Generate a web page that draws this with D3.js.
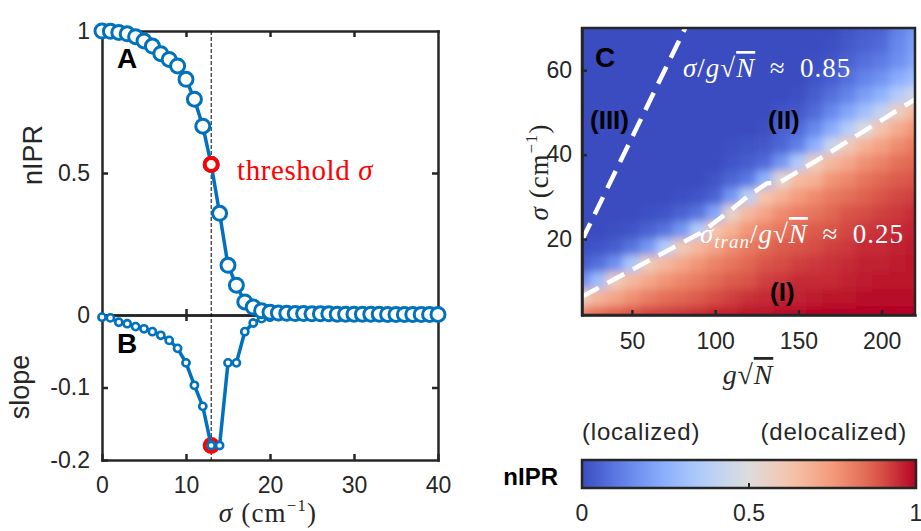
<!DOCTYPE html>
<html>
<head>
<meta charset="utf-8">
<script src="https://cdn.jsdelivr.net/npm/d3@7"></script>
<style>
body { margin: 0; background: #fff; }
svg text { font-family: "Liberation Sans", Arial, sans-serif; fill: #262626; }
svg text.serif { font-family: "Liberation Serif", "Times New Roman", serif; }
</style>
</head>
<body>
<svg id="fig" width="921" height="531"></svg>
<script>
// ---- panels A / B : nIPR and its slope vs sigma ----
const sigmaVals = [0, 1, 2, 3, 4, 5, 6, 7, 8, 9, 10, 11, 12, 13, 14, 15, 16, 17, 18, 19, 20,
    21, 22, 23, 24, 25, 26, 27, 28, 29, 30, 31, 32, 33, 34, 35, 36, 37, 38, 39, 40];
const nIPR = [1.0, 0.999, 0.995, 0.99, 0.98, 0.965, 0.947, 0.92, 0.90, 0.877, 0.83, 0.76, 0.665,
    0.53, 0.358, 0.175, 0.105, 0.046, 0.028, 0.015, 0.01, 0.007, 0.006, 0.005, 0.005, 0.004,
    0.004, 0.004, 0.003, 0.003, 0.003, 0.003, 0.003, 0.003, 0.002, 0.002, 0.002, 0.002, 0.002,
    0.002, 0.002];
const slope = [-0.003, -0.004, -0.01, -0.012, -0.016, -0.019, -0.023, -0.028, -0.035, -0.046,
    -0.066, -0.097, -0.126, -0.18, -0.18, -0.066, -0.066, -0.023, -0.011, -0.005, -0.003, -0.002,
    -0.002, -0.001, -0.001, -0.001, -0.001, -0.001, -0.001, -0.001, -0.001, -0.001, -0.001,
    -0.001, -0.001, -0.001, -0.001, -0.001, -0.001, -0.001, -0.001];
const thresholdSigma = 13;
const axTicksX = [0, 10, 20, 30, 40];
const axTicksA = [0, 0.5, 1];
const axTicksB = [-0.2, -0.1];

// ---- panel C : nIPR map over (g sqrt N, sigma) ----
const gSqrtN = [20, 30, 40, 50, 60, 70, 80, 90, 100, 110, 120, 130, 140, 150, 160, 170, 180, 190, 200, 210, 220];
const sigmaGrid = [70, 66, 62, 58, 54, 50, 46, 42, 38, 34, 30, 26, 22, 18, 14, 10, 6, 2];
const nIPRGrid = [
    [0, 0, 0, 0, 0, 0, 0, 0, 0, 0, 0, 0, 0, 0, 0, 0, 0.02, 0.04, 0.05, 0.12, 0.18],
    [0, 0, 0, 0, 0, 0, 0, 0, 0, 0, 0, 0, 0, 0, 0, 0.01, 0.03, 0.05, 0.07, 0.14, 0.20],
    [0, 0, 0, 0, 0, 0, 0, 0, 0, 0, 0, 0, 0, 0, 0.01, 0.02, 0.05, 0.08, 0.11, 0.16, 0.22],
    [0, 0, 0, 0, 0, 0, 0, 0, 0, 0, 0, 0, 0, 0, 0.02, 0.04, 0.08, 0.13, 0.17, 0.24, 0.30],
    [0, 0, 0, 0, 0, 0, 0, 0, 0, 0, 0, 0, 0, 0.01, 0.04, 0.08, 0.13, 0.20, 0.26, 0.36, 0.45],
    [0, 0, 0, 0, 0, 0, 0, 0, 0, 0, 0, 0, 0.02, 0.03, 0.07, 0.14, 0.22, 0.31, 0.41, 0.58, 0.66],
    [0, 0, 0, 0, 0, 0, 0, 0, 0, 0, 0, 0.01, 0.05, 0.07, 0.14, 0.24, 0.36, 0.49, 0.63, 0.70, 0.76],
    [0, 0, 0, 0, 0, 0, 0, 0, 0, 0.01, 0.02, 0.03, 0.06, 0.12, 0.25, 0.43, 0.60, 0.68, 0.73, 0.78, 0.82],
    [0, 0, 0, 0, 0, 0, 0, 0, 0, 0.02, 0.04, 0.07, 0.18, 0.35, 0.58, 0.66, 0.71, 0.77, 0.80, 0.84, 0.86],
    [0, 0, 0, 0, 0, 0, 0, 0, 0.02, 0.06, 0.10, 0.26, 0.53, 0.65, 0.68, 0.76, 0.79, 0.83, 0.86, 0.88, 0.89],
    [0, 0, 0, 0, 0, 0, 0.01, 0.02, 0.05, 0.18, 0.38, 0.62, 0.68, 0.74, 0.78, 0.82, 0.84, 0.87, 0.89, 0.91, 0.92],
    [0, 0, 0, 0, 0.01, 0.02, 0.05, 0.09, 0.22, 0.55, 0.66, 0.72, 0.78, 0.81, 0.83, 0.86, 0.89, 0.90, 0.92, 0.93, 0.95],
    [0, 0, 0.01, 0.02, 0.05, 0.09, 0.18, 0.36, 0.62, 0.68, 0.76, 0.80, 0.83, 0.86, 0.88, 0.89, 0.91, 0.93, 0.94, 0.95, 0.96],
    [0.01, 0.02, 0.04, 0.09, 0.18, 0.36, 0.59, 0.66, 0.72, 0.78, 0.82, 0.85, 0.88, 0.89, 0.90, 0.92, 0.93, 0.95, 0.95, 0.96, 0.97],
    [0.04, 0.08, 0.16, 0.34, 0.59, 0.66, 0.71, 0.76, 0.80, 0.83, 0.86, 0.89, 0.90, 0.92, 0.93, 0.94, 0.95, 0.96, 0.96, 0.97, 0.98],
    [0.15, 0.30, 0.58, 0.66, 0.71, 0.76, 0.79, 0.82, 0.85, 0.88, 0.89, 0.92, 0.93, 0.95, 0.95, 0.95, 0.96, 0.97, 0.98, 0.98, 0.98],
    [0.58, 0.67, 0.72, 0.77, 0.81, 0.84, 0.86, 0.88, 0.90, 0.92, 0.94, 0.95, 0.96, 0.96, 0.97, 0.98, 0.98, 0.99, 0.99, 0.99, 0.99],
    [0.80, 0.84, 0.87, 0.89, 0.91, 0.92, 0.93, 0.94, 0.96, 0.96, 0.98, 0.98, 0.99, 0.99, 1.0, 1.0, 1.0, 1.0, 1.0, 1.0, 1.0]
];
const localBoundary = [[20, 19.7], [82, 70]];   // sigma / g sqrt N ~ 0.85
const tranBoundary = [[20, 6.3], [55, 13.8], [91, 21.4], [107, 26.1], [119, 29.9],
    [131, 33.2], [139, 33.5], [161, 38.6], [220, 53.1]];   // sigma_tran / g sqrt N ~ 0.25
const axTicksG = [50, 100, 150, 200];
const axTicksS = [20, 40, 60];
const cbTicks = [0, 0.5, 1];

const ink = '#262626';
const lineBlue = '#0072bd';
const coolwarm = ['#3b4cc0', '#6282ea', '#8db0fe', '#b8d0f9', '#dddcdc', '#f5c4ac', '#f49a7b', '#de604d', '#b40426'];
const color = d3.scaleLinear()
    .domain(coolwarm.map((c, i) => i / (coolwarm.length - 1)))
    .range(coolwarm)
    .clamp(true);

const svg = d3.select('#fig');
const defs = svg.append('defs');

function styleAxis(g, size) {
    g.attr('font-family', null).attr('font-size', size);
    g.select('.domain').attr('stroke', ink).attr('stroke-width', 2.5).attr('stroke-linecap', 'square');
    g.selectAll('.tick line').attr('stroke', ink).attr('stroke-width', 2.5);
    g.selectAll('.tick text').attr('fill', ink);
}

// ============ panels A and B ============
let x = d3.scaleLinear().domain([0, 40]).range([102, 438]);
let yA = d3.scaleLinear().domain([0, 1]).range([315, 31]);
let yB = d3.scaleLinear().domain([-0.2, 0]).range([460, 315]);

svg.append('g').attr('transform', 'translate(102,0)')
    .call(d3.axisLeft(yA).tickValues(axTicksA).tickFormat(d => String(d))
        .tickSizeInner(-6).tickSizeOuter(0).tickPadding(12))
    .call(g => styleAxis(g, 23));
svg.append('g').attr('transform', 'translate(102,0)')
    .call(d3.axisLeft(yB).tickValues(axTicksB).tickFormat(d => String(d))
        .tickSizeInner(-6).tickSizeOuter(0).tickPadding(12))
    .call(g => styleAxis(g, 23));
svg.append('g').attr('transform', 'translate(438,0)')
    .call(d3.axisRight(yA).tickValues([0.5]).tickFormat('').tickSizeInner(-6).tickSizeOuter(0))
    .call(g => styleAxis(g, 23));
svg.append('g').attr('transform', 'translate(438,0)')
    .call(d3.axisRight(yB).tickValues([-0.1]).tickFormat('').tickSizeInner(-6).tickSizeOuter(0))
    .call(g => styleAxis(g, 23));
svg.append('g').attr('transform', 'translate(0,31)')
    .call(d3.axisTop(x).tickValues([10, 20, 30]).tickFormat('').tickSizeInner(-6).tickSizeOuter(0))
    .call(g => styleAxis(g, 23));
svg.append('g').attr('transform', 'translate(0,315)')
    .call(d3.axisBottom(x).tickValues([10, 20, 30]).tickFormat('').tickSizeInner(-6).tickSizeOuter(0))
    .call(g => styleAxis(g, 23));
svg.append('g').attr('transform', 'translate(0,315)')
    .call(d3.axisTop(x).tickValues([10, 20, 30]).tickFormat('').tickSizeInner(-6).tickSizeOuter(0))
    .call(g => styleAxis(g, 23));
svg.append('g').attr('transform', 'translate(0,460)')
    .call(d3.axisBottom(x).tickValues(axTicksX).tickSizeInner(-6).tickSizeOuter(0).tickPadding(17))
    .call(g => styleAxis(g, 23));

// threshold marker line
svg.append('line')
    .attr('x1', x(thresholdSigma)).attr('x2', x(thresholdSigma))
    .attr('y1', yA(1)).attr('y2', yB(-0.2))
    .attr('stroke', '#000').attr('stroke-width', 1).attr('stroke-dasharray', '4,2');

// panel B
let ti = sigmaVals.indexOf(thresholdSigma);
svg.append('circle')
    .attr('cx', x(thresholdSigma)).attr('cy', yB(slope[ti])).attr('r', 6.5)
    .attr('fill', 'none').attr('stroke', '#ff0000').attr('stroke-width', 4);
svg.append('path')
    .datum(sigmaVals.map((s, i) => [s, slope[i]]))
    .attr('d', d3.line().x(d => x(d[0])).y(d => yB(d[1])))
    .attr('fill', 'none').attr('stroke', lineBlue).attr('stroke-width', 3.5);
svg.selectAll('circle.ptB')
    .data(sigmaVals.map((s, i) => [s, slope[i]]))
    .enter().append('circle')
    .attr('class', 'ptB')
    .attr('cx', d => x(d[0])).attr('cy', d => yB(d[1])).attr('r', 3.6)
    .attr('fill', '#fff').attr('stroke', lineBlue).attr('stroke-width', 2.6);

// panel A
svg.append('path')
    .datum(sigmaVals.map((s, i) => [s, nIPR[i]]))
    .attr('d', d3.line().x(d => x(d[0])).y(d => yA(d[1])))
    .attr('fill', 'none').attr('stroke', lineBlue).attr('stroke-width', 3.5);
svg.selectAll('circle.ptA')
    .data(sigmaVals.map((s, i) => [s, nIPR[i]]))
    .enter().append('circle')
    .attr('class', 'ptA')
    .attr('cx', d => x(d[0])).attr('cy', d => yA(d[1])).attr('r', 7)
    .attr('fill', '#fff').attr('stroke', lineBlue).attr('stroke-width', 3);
svg.append('circle')
    .attr('cx', x(thresholdSigma)).attr('cy', yA(nIPR[ti])).attr('r', 6.5)
    .attr('fill', '#fff').attr('stroke', '#ff0000').attr('stroke-width', 4);

// labels A/B
let thr = svg.append('text').attr('class', 'serif')
    .attr('x', 237).attr('y', 180).attr('font-size', 29).attr('letter-spacing', 0.6)
    .style('fill', '#ff0000');
thr.append('tspan').text('threshold ');
thr.append('tspan').attr('font-style', 'italic').text('σ');

svg.append('text').attr('x', 117).attr('y', 68).attr('font-size', 28).attr('font-weight', 'bold')
    .style('fill', '#000').text('A');
svg.append('text').attr('x', 117).attr('y', 353).attr('font-size', 28).attr('font-weight', 'bold')
    .style('fill', '#000').text('B');
svg.append('text').attr('transform', 'translate(42,155) rotate(-90)')
    .attr('text-anchor', 'middle').attr('font-size', 27).text('nIPR');
svg.append('text').attr('transform', 'translate(29,387) rotate(-90)')
    .attr('text-anchor', 'middle').attr('font-size', 27).text('slope');

function sigmaUnit(t) {
    t.append('tspan').attr('font-style', 'italic').text('σ');
    t.append('tspan').text(' (cm');
    t.append('tspan').attr('font-size', '0.62em').attr('dy', -11).text('−1');
    t.append('tspan').attr('dy', 11).text(')');
}
svg.append('text').attr('class', 'serif').attr('x', 268).attr('y', 522)
    .attr('text-anchor', 'middle').attr('font-size', 27).attr('letter-spacing', 1.2).call(sigmaUnit);

// ============ panel C ============
let xC = d3.scaleLinear().domain([20, 220]).range([582, 915]);
let yC = d3.scaleLinear().domain([2, 70]).range([315, 28]);

defs.append('clipPath').attr('id', 'clipC').append('rect')
    .attr('x', xC(20)).attr('y', yC(70)).attr('width', xC(220) - xC(20)).attr('height', yC(2) - yC(70));
defs.append('filter').attr('id', 'soft')
    .attr('x', '-5%').attr('y', '-5%').attr('width', '110%').attr('height', '110%')
    .append('feGaussianBlur').attr('stdDeviation', 4);

let heat = svg.append('g').attr('clip-path', 'url(#clipC)')
    .append('g').attr('filter', 'url(#soft)');
let cw = 10, ch = 4;
sigmaGrid.forEach((s, i) => {
    gSqrtN.forEach((g, j) => {
        let x0 = g - cw / 2, x1 = g + cw / 2, y0 = s - ch / 2, y1 = s + ch / 2;
        if (j === 0) x0 -= 20;
        if (j === gSqrtN.length - 1) x1 += 20;
        if (i === 0) y1 += 10;
        if (i === sigmaGrid.length - 1) y0 -= 10;
        heat.append('rect')
            .attr('x', xC(x0) - 0.5).attr('y', yC(y1) - 0.5)
            .attr('width', xC(x1) - xC(x0) + 1).attr('height', yC(y0) - yC(y1) + 1)
            .attr('fill', color(nIPRGrid[i][j]));
    });
});

let bounds = svg.append('g').attr('clip-path', 'url(#clipC)');
[localBoundary, tranBoundary].forEach(b => {
    bounds.append('path').datum(b)
        .attr('d', d3.line().x(d => xC(d[0])).y(d => yC(d[1])))
        .attr('fill', 'none').attr('stroke', '#fff').attr('stroke-width', 4.5)
        .attr('stroke-dasharray', '19,10');
});

svg.append('g').attr('transform', `translate(0,${yC(2)})`)
    .call(d3.axisBottom(xC).tickValues(axTicksG).tickSizeInner(-5).tickSizeOuter(0).tickPadding(18))
    .call(g => styleAxis(g, 23));
svg.append('g').attr('transform', `translate(${xC(20)},0)`)
    .call(d3.axisLeft(yC).tickValues(axTicksS).tickSizeInner(-5).tickSizeOuter(0).tickPadding(10))
    .call(g => styleAxis(g, 23));
svg.append('rect')
    .attr('x', xC(20)).attr('y', yC(70)).attr('width', xC(220) - xC(20)).attr('height', yC(2) - yC(70))
    .attr('fill', 'none').attr('stroke', ink).attr('stroke-width', 2.5);

svg.append('text').attr('x', 595).attr('y', 67).attr('font-size', 28).attr('font-weight', 'bold')
    .style('fill', '#000').text('C');
svg.append('text').attr('x', 590).attr('y', 129).attr('font-size', 26).attr('font-weight', 'bold')
    .style('fill', '#000').text('(III)');
svg.append('text').attr('x', 768).attr('y', 129).attr('font-size', 26).attr('font-weight', 'bold')
    .style('fill', '#000').text('(II)');
svg.append('text').attr('x', 770).attr('y', 301).attr('font-size', 26).attr('font-weight', 'bold')
    .style('fill', '#000').text('(I)');

function sqrtN(t) {
    t.append('tspan').attr('font-style', 'italic').text('g');
    t.append('tspan').text('√');
    t.append('tspan').attr('font-style', 'italic').style('text-decoration', 'overline').text('N');
}
let r1 = svg.append('text').attr('class', 'serif').attr('x', 683).attr('y', 77)
    .attr('font-size', 27).attr('letter-spacing', 1).style('fill', '#fff');
r1.append('tspan').attr('font-style', 'italic').text('σ');
r1.append('tspan').text('/');
r1.call(sqrtN);
r1.append('tspan').text('\u2002≈\u20020.85');

let r2 = svg.append('text').attr('class', 'serif').attr('x', 700).attr('y', 243)
    .attr('font-size', 27).attr('letter-spacing', 1).style('fill', '#fff');
r2.append('tspan').attr('font-style', 'italic').text('σ');
r2.append('tspan').attr('font-style', 'italic').attr('font-size', 19).attr('dy', 5).text('tran');
r2.append('tspan').attr('dy', -5).text('/');
r2.call(sqrtN);
r2.append('tspan').text('\u2002≈\u20020.25');

svg.append('text').attr('class', 'serif').attr('x', 748).attr('y', 384)
    .attr('text-anchor', 'middle').attr('font-size', 28).attr('letter-spacing', 0.8).call(sqrtN);
svg.append('text').attr('class', 'serif').attr('transform', 'translate(548,172) rotate(-90)')
    .attr('text-anchor', 'middle').attr('font-size', 27).attr('letter-spacing', 1).call(sigmaUnit);

// ============ colorbar ============
let cb = d3.scaleLinear().domain([0, 1]).range([582, 916]);
let grad = defs.append('linearGradient').attr('id', 'cbGrad');
d3.range(0, 1.0001, 0.05).forEach(t => {
    grad.append('stop').attr('offset', t).attr('stop-color', color(t));
});
svg.append('rect')
    .attr('x', cb(0)).attr('y', 460).attr('width', cb(1) - cb(0)).attr('height', 28)
    .attr('fill', 'url(#cbGrad)').attr('stroke', ink).attr('stroke-width', 2.5);
svg.append('line')
    .attr('x1', cb(0.5)).attr('x2', cb(0.5)).attr('y1', 488).attr('y2', 483)
    .attr('stroke', ink).attr('stroke-width', 2);
svg.selectAll('text.cbTick')
    .data(cbTicks).enter().append('text')
    .attr('class', 'cbTick')
    .attr('x', d => cb(d)).attr('y', 521).attr('text-anchor', 'middle').attr('font-size', 23)
    .text(d => String(d));
svg.append('text').attr('x', 582).attr('y', 440).attr('font-size', 24)
    .attr('letter-spacing', 0.8).text('(localized)');
svg.append('text').attr('x', 907).attr('y', 440).attr('font-size', 24).attr('text-anchor', 'end')
    .attr('letter-spacing', 0.8).text('(delocalized)');
svg.append('text').attr('x', 558).attr('y', 485).attr('font-size', 24).attr('font-weight', 'bold')
    .attr('text-anchor', 'end').style('fill', '#000').text('nIPR');
</script>
</body>
</html>
